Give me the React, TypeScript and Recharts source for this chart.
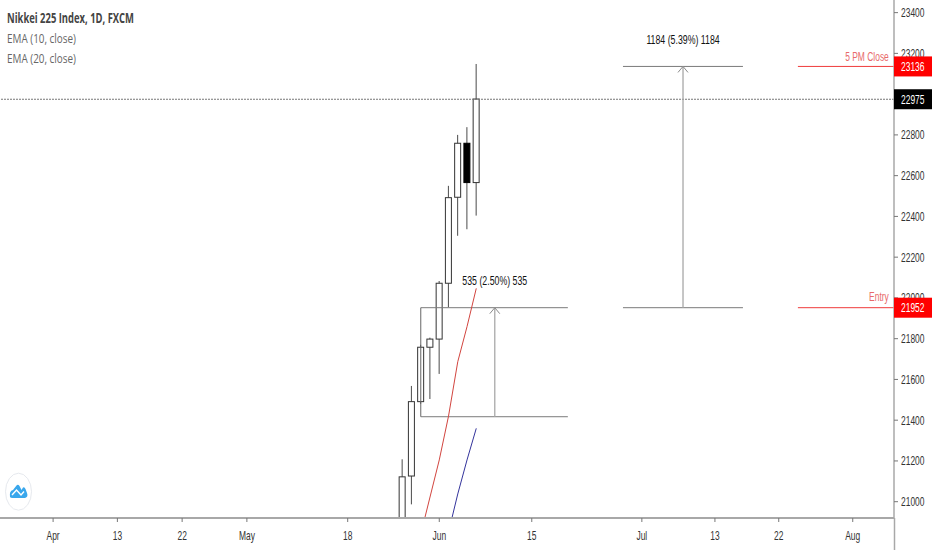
import React from "react";
import {
  ComposedChart, Bar, Line, XAxis, YAxis, ReferenceLine, ReferenceDot,
} from "recharts";

// bar offset from the 1 June session
const sessions = [-4, -3, -2, -1, 0, 1, 2, 3, 4];
const opens = [20850, 21126, 21491, 21758, 21798, 22072, 22494, 22759, 22566];
const closes = [21122, 21491, 21758, 21798, 22072, 22492, 22759, 22566, 22976];
const highs = [21208, 21568, 21770, 21805, 22083, 22550, 22800, 22838, 23148];
const lows = [20800, 20987, 21480, 21504, 21627, 21954, 22305, 22337, 22404];
const ema10 = [null, null, 20841, 21023, 21205, 21420, 21687, 21859, 22047];
const ema20 = [null, null, null, null, null, 20851, 21038, 21205, 21360];

// 23000 sits fully behind the black last-price flag in the reference
const priceTicks = [23400, 23200, 22800, 22600, 22400, 22200, 22000, 21800, 21600, 21400, 21200, 21000];
const flags = [
  { value: 23136, fill: "#ff0000" },
  { value: 22975, fill: "#000000" },
  { value: 21952, fill: "#ff0000" },
];
const timePositions = [-41.75, -34.8, -27.8, -20.8, -9.9, 0, 10, 21.9, 29.8, 36.7, 44.7];
const timeLabels = ["Apr", "13", "22", "May", "18", "Jun", "15", "Jul", "13", "22", "Aug"];

const xDomain: [number, number] = [-47.49, 49.16];
const yDomain: [number, number] = [20920, 23462];

const lastPrice = 22975;
const entry = 21952;
const target = 23136;
const lowerBase = 21417;
const lowerLeft = -2;
const lowerRight = 13.9;
const lowerArrow = 6;
const upperLeft = 19.86;
const upperRight = 32.83;
const upperArrow = 26.35;
const flagLineStart = 38.77;

const rows = sessions.map((i, k) => ({
  i,
  body: [Math.min(opens[k], closes[k]), Math.max(opens[k], closes[k])],
  open: opens[k],
  close: closes[k],
  high: highs[k],
  low: lows[k],
  ema10: ema10[k],
  ema20: ema20[k],
}));

const INK = "#4a4a4a";
const RULE = "#7a7a7a";
const SQUEEZE = 0.65;
const FONT = "'Liberation Sans', Arial, sans-serif";

function Candle(props: any) {
  const { x, y, width, height, payload } = props;
  const [lo, hi] = payload.body;
  const k = hi > lo ? height / (hi - lo) : 0;
  const cx = x + width / 2;
  const down = payload.close < payload.open;
  return (
    <g>
      <line x1={cx} x2={cx} y1={y - (payload.high - hi) * k} y2={y + height + (lo - payload.low) * k} stroke={INK} strokeWidth={1} />
      <rect x={x + 0.5} y={y} width={width - 1} height={height} fill={down ? "#000" : "#fff"} stroke={down ? "#000" : "#333"} strokeWidth={1} />
    </g>
  );
}

function Squeezed({ x, y, fill, anchor = "middle", children, size = 13 }: any) {
  return (
    <text transform={`translate(${x},${y}) scale(${SQUEEZE},1)`} fill={fill} textAnchor={anchor} fontFamily={FONT} fontSize={size}>
      {children}
    </text>
  );
}

function PriceTick(props: any) {
  const { x, y, payload } = props;
  const left = x - 8;
  const flag = flags.find((f) => f.value === payload.value);
  if (flag) {
    return (
      <g>
        <rect x={left} y={y - 10} width={38} height={20} fill={flag.fill} />
        <Squeezed x={left + 7} y={y + 4.5} fill="#fff" anchor="start">{payload.value}</Squeezed>
      </g>
    );
  }
  return (
    <g>
      <line x1={left} x2={left + 4} y1={y} y2={y} stroke="#777" />
      <Squeezed x={left + 7} y={y + 4.5} fill="#333" anchor="start">{payload.value}</Squeezed>
    </g>
  );
}

function TimeTick(props: any) {
  const { x, y, payload } = props;
  const top = y - 8;
  return (
    <g>
      <line x1={x} x2={x} y1={top} y2={top + 4} stroke="#777" />
      <Squeezed x={x} y={top + 22} fill="#333">{timeLabels[payload.index]}</Squeezed>
    </g>
  );
}

function ArrowHead(props: any) {
  const { cx, cy } = props;
  return <path d={`M${cx - 5} ${cy + 6} L${cx} ${cy} L${cx + 5} ${cy + 6}`} fill="none" stroke="#8a8a8a" />;
}

const labelShape = (text: string, fill: string, anchor: string, size: number) => (props: any) => (
  <Squeezed x={props.cx} y={props.cy} fill={fill} anchor={anchor} size={size}>{text}</Squeezed>
);

function seg(x1: number, y1: number, x2: number, y2: number, color = RULE, w = 1) {
  return (
    <ReferenceLine
      key={`${x1}-${y1}-${x2}-${y2}`}
      segment={[{ x: x1, y: y1 }, { x: x2, y: y2 }]}
      stroke={color}
      strokeWidth={w}
      ifOverflow="hidden"
    />
  );
}

export default function App() {
  return (
    <div style={{ position: "absolute", left: 0, top: 0, width: 932, height: 550, background: "#fff", overflow: "hidden" }}>
      <ComposedChart width={932} height={550} data={rows} margin={{ top: 0, right: 0, bottom: 0, left: 0 }} barSize={7}>
        <XAxis
          dataKey="i"
          type="number"
          domain={xDomain}
          allowDataOverflow
          ticks={timePositions}
          interval={0}
          height={32}
          tickLine={false}
          tickMargin={0}
          tickSize={8}
          axisLine={{ stroke: "#a8a8a8", strokeWidth: 2 }}
          tick={<TimeTick />}
        />
        <YAxis
          orientation="right"
          type="number"
          domain={yDomain}
          allowDataOverflow
          ticks={[...priceTicks, ...flags.map((f) => f.value)]}
          interval={0}
          width={38}
          tickLine={false}
          tickMargin={0}
          tickSize={8}
          axisLine={{ stroke: "#a8a8a8", strokeWidth: 1.5 }}
          tick={<PriceTick />}
        />
        <ReferenceLine y={lastPrice} stroke="#777" strokeWidth={1.2} strokeDasharray="2 1" />
        {seg(lowerLeft, entry, lowerRight, entry)}
        {seg(lowerLeft, lowerBase, lowerRight, lowerBase)}
        {seg(lowerLeft, lowerBase, lowerLeft, entry, "#666")}
        {seg(lowerArrow, lowerBase, lowerArrow, entry, "#a8a8a8", 1.3)}
        {seg(upperLeft, entry, upperRight, entry)}
        {seg(upperLeft, target, upperRight, target)}
        {seg(upperArrow, entry, upperArrow, target, "#a8a8a8", 1.3)}
        {seg(flagLineStart, target, xDomain[1], target, "#ef3b3b")}
        {seg(flagLineStart, entry, xDomain[1], entry, "#ef3b3b")}
        <Bar dataKey="body" isAnimationActive={false} shape={<Candle />} />
        <Line dataKey="ema10" type="linear" stroke="#d2453f" strokeWidth={1} dot={false} connectNulls={false} isAnimationActive={false} />
        <Line dataKey="ema20" type="linear" stroke="#34349c" strokeWidth={1} dot={false} connectNulls={false} isAnimationActive={false} />
        <ReferenceDot x={lowerArrow} y={entry} shape={ArrowHead} ifOverflow="visible" />
        <ReferenceDot x={upperArrow} y={target} shape={ArrowHead} ifOverflow="visible" />
        <ReferenceDot x={6} y={22065} ifOverflow="visible" shape={labelShape("535 (2.50%) 535", "#111", "middle", 13.5)} />
        <ReferenceDot x={26.35} y={23248} ifOverflow="visible" shape={labelShape("1184 (5.39%) 1184", "#111", "middle", 13.5)} />
        <ReferenceDot x={48.6} y={23162} ifOverflow="visible" shape={labelShape("5 PM Close", "#e86a6a", "end", 13)} />
        <ReferenceDot x={48.6} y={21985} ifOverflow="visible" shape={labelShape("Entry", "#e86a6a", "end", 13)} />
      </ComposedChart>
      <svg width={932} height={550} style={{ position: "absolute", left: 0, top: 0, pointerEvents: "none" }}>
        <line x1={894.5} x2={894.5} y1={518} y2={550} stroke="#a8a8a8" strokeWidth={1.5} />
        <text x={7} y={23} textLength={127} lengthAdjust="spacingAndGlyphs" fontFamily="'Open Sans', sans-serif" fontWeight={700} fontSize={13.5} fill="#444">Nikkei 225 Index, 1D, FXCM</text>
        <text x={7} y={43} textLength={69} lengthAdjust="spacingAndGlyphs" fontFamily="'Open Sans', sans-serif" fontSize={13.5} fill="#666">EMA (10, close)</text>
        <text x={7} y={63} textLength={69} lengthAdjust="spacingAndGlyphs" fontFamily="'Open Sans', sans-serif" fontSize={13.5} fill="#666">EMA (20, close)</text>
        <ellipse cx={18.5} cy={491.7} rx={13} ry={18.5} fill="#fff" stroke="#e6e9ee" strokeWidth={1} />
        <path d="M10 497 Q9 491 13 490 L16.5 485.5 Q18 484 19.5 486 L21.5 490 L23 487.5 Q24.5 486.5 25.5 489 L27 493 Q28.5 497 25 498 L12.5 498 Q10.5 498 10 497 Z" fill="#39a7ec" />
        <path d="M12 495 L16.5 490 L21 495 L24 491.5" fill="none" stroke="#fff" strokeWidth={1.4} />
      </svg>
    </div>
  );
}
